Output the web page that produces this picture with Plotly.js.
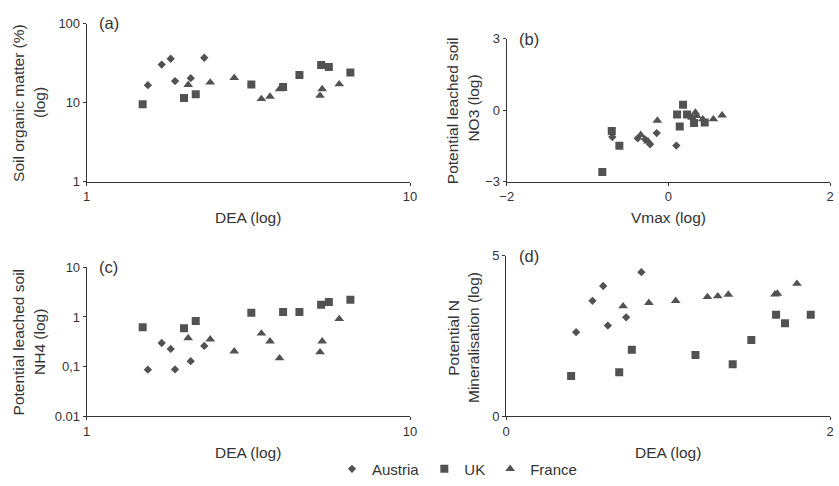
<!DOCTYPE html>
<html>
<head>
<meta charset="utf-8">
<script src="https://cdn.plot.ly/plotly-3.0.1.min.js"></script>
<style>
  html, body { margin: 0; padding: 0; background: #fff; }
  #chart { width: 839px; height: 486px; }
</style>
</head>
<body>
<div id="chart"></div>
<script>
// ---- Data ----
const countries = ['Austria', 'UK', 'France'];
const symbols = ['diamond', 'square', 'triangle-up'];

// Panels (a) and (c): DEA (log axis)
const deaAustria = [1.546, 1.706, 1.819, 1.876, 2.098, 2.31];
const deaUK = [1.49, 2.0, 2.174, 3.23, 4.05, 4.55, 5.31, 5.61, 6.54];
const deaFrance = [2.06, 2.41, 2.86, 3.47, 3.69, 3.95, 5.27, 5.35, 6.04];

// Panel (a): soil organic matter (%)
const somAustria = [16.7, 30.4, 36.1, 18.8, 20.5, 37.1];
const somUK = [9.6, 11.5, 12.8, 17.0, 15.8, 22.5, 30.0, 28.4, 24.2];
const somFrance = [16.9, 18.1, 20.7, 11.2, 12.0, 14.9, 12.3, 14.9, 17.2];

// Panel (c): potential leached soil NH4
const nh4Austria = [0.087, 0.299, 0.227, 0.088, 0.129, 0.261];
const nh4UK = [0.623, 0.594, 0.832, 1.22, 1.26, 1.26, 1.76, 1.99, 2.21];
const nh4France = [0.376, 0.354, 0.204, 0.466, 0.323, 0.148, 0.195, 0.323, 0.912];

// Panel (b): Vmax (log) vs potential leached soil NO3 (log)
const vmaxAustria = [-0.693, -0.379, -0.288, -0.226, -0.144, 0.099];
const no3Austria = [-1.12, -1.174, -1.216, -1.423, -0.954, -1.477];
const vmaxUK = [-0.817, -0.700, -0.606, 0.108, 0.141, 0.182, 0.231, 0.318, 0.450];
const no3UK = [-2.585, -0.871, -1.485, -0.178, -0.676, 0.237, -0.178, -0.531, -0.510];
const vmaxFrance = [-0.342, -0.251, -0.136, 0.293, 0.334, 0.351, 0.426, 0.557, 0.665];
const no3France = [-1.029, -1.299, -0.427, -0.303, -0.095, -0.232, -0.373, -0.373, -0.207];

// Panel (d): DEA (log) vs potential N mineralisation (log)
const deaLogAustria = [0.432, 0.533, 0.599, 0.628, 0.741, 0.835];
const nminAustria = [2.618, 3.593, 4.055, 2.823, 3.080, 4.487];
const deaLogUK = [0.401, 0.698, 0.776, 1.169, 1.399, 1.514, 1.667, 1.722, 1.881];
const nminUK = [1.253, 1.376, 2.074, 1.910, 1.622, 2.372, 3.162, 2.895, 3.162];
const deaLogFrance = [0.722, 0.881, 1.047, 1.243, 1.307, 1.372, 1.660, 1.675, 1.796];
const nminFrance = [3.429, 3.532, 3.593, 3.717, 3.737, 3.789, 3.799, 3.819, 4.127];

// Tick labels
const ticksA_x = [1, 10], ticksA_xt = ['1', '10'];
const ticksA_y = [1, 10, 100], ticksA_yt = ['1', '10', '100'];
const ticksB_x = [-2, 0, 2], ticksB_xt = ['\u22122', '0', '2'];
const ticksB_y = [-3, 0, 3], ticksB_yt = ['\u22123', '0', '3'];
const ticksC_y = [0.01, 0.1, 1, 10], ticksC_yt = ['0.01', '0,1', '1', '10'];
const ticksD_x = [0, 2], ticksD_xt = ['0', '2'];
const ticksD_y = [0, 5], ticksD_yt = ['0', '5'];

// ---- Build traces ----
const W = 839, H = 486;
const markerColor = '#525252';
const markerSizes = [6.4, 8, 8.5];
const panels = [
  { xa: 'x',  ya: 'y',  xs: [deaAustria, deaUK, deaFrance],          ys: [somAustria, somUK, somFrance] },
  { xa: 'x2', ya: 'y2', xs: [vmaxAustria, vmaxUK, vmaxFrance],       ys: [no3Austria, no3UK, no3France] },
  { xa: 'x3', ya: 'y3', xs: [deaAustria, deaUK, deaFrance],          ys: [nh4Austria, nh4UK, nh4France] },
  { xa: 'x4', ya: 'y4', xs: [deaLogAustria, deaLogUK, deaLogFrance], ys: [nminAustria, nminUK, nminFrance] }
];
const traces = [];
panels.forEach((p, pi) => {
  countries.forEach((c, ci) => {
    traces.push({
      type: 'scatter', mode: 'markers', name: c, legendgroup: c,
      showlegend: pi === 0,
      x: p.xs[ci], y: p.ys[ci], xaxis: p.xa, yaxis: p.ya,
      marker: { symbol: symbols[ci], size: markerSizes[ci], color: markerColor, line: { width: 0 } },
      hoverinfo: 'x+y+name'
    });
  });
});

// ---- Layout ----
const font = 'Liberation Sans, Arial, Helvetica, sans-serif';
const lineCol = '#333';
function axisBase(extra) {
  return Object.assign({
    showline: true, linecolor: lineCol, linewidth: 1,
    ticks: 'outside', ticklen: 3, tickwidth: 1, tickcolor: lineCol,
    showgrid: false, zeroline: false, fixedrange: true,
    tickfont: { family: font, size: 13, color: '#333' },
    tickmode: 'array'
  }, extra);
}
const px = v => v / W;
const py = v => 1 - v / H;

const layout = {
  width: W, height: H,
  margin: { l: 0, r: 0, t: 0, b: 0 },
  paper_bgcolor: '#fff', plot_bgcolor: '#fff',
  font: { family: font, color: '#333' },
  showlegend: true,
  legend: {
    orientation: 'h', x: px(457), xanchor: 'center', y: py(474), yanchor: 'middle',
    font: { family: font, size: 15, color: '#333' },
    bgcolor: 'rgba(0,0,0,0)', borderwidth: 0, itemclick: false, itemdoubleclick: false
  },
  xaxis:  axisBase({ domain: [px(86.7), px(410)], type: 'log', range: [0, 1], tickvals: ticksA_x, ticktext: ticksA_xt, anchor: 'y' }),
  yaxis:  axisBase({ domain: [py(183.7), py(24)], type: 'log', range: [0, 2], tickvals: ticksA_y, ticktext: ticksA_yt, anchor: 'x' }),
  xaxis2: axisBase({ domain: [px(506.7), px(830)], range: [-2, 2], tickvals: ticksB_x, ticktext: ticksB_xt, anchor: 'y2' }),
  yaxis2: axisBase({ domain: [py(183.7), py(39.3)], range: [-3, 3], tickvals: ticksB_y, ticktext: ticksB_yt, anchor: 'x2' }),
  xaxis3: axisBase({ domain: [px(86.7), px(410)], type: 'log', range: [0, 1], tickvals: ticksA_x, ticktext: ticksA_xt, anchor: 'y3' }),
  yaxis3: axisBase({ domain: [py(420.7), py(270)], type: 'log', range: [-2, 1], tickvals: ticksC_y, ticktext: ticksC_yt, anchor: 'x3' }),
  xaxis4: axisBase({ domain: [px(506.2), px(830)], range: [0, 2], tickvals: ticksD_x, ticktext: ticksD_xt, anchor: 'y4' }),
  yaxis4: axisBase({ domain: [py(420.7), py(258.3)], range: [0, 5], tickvals: ticksD_y, ticktext: ticksD_yt, anchor: 'x4' }),
  annotations: []
};

function ann(text, x, y, opts) {
  layout.annotations.push(Object.assign({
    text: text, xref: 'paper', yref: 'paper', x: px(x), y: py(y),
    xanchor: 'center', yanchor: 'middle', showarrow: false,
    font: { family: font, size: 15.5, color: '#333' }
  }, opts || {}));
}
// Panel labels
const labelFont = { family: font, size: 16.5, color: '#333' };
ann('(a)', 97, 23, { xanchor: 'left', font: labelFont });
ann('(b)', 516.5, 39.5, { xanchor: 'left', font: labelFont });
ann('(c)', 96.5, 270, { xanchor: 'left', font: labelFont });
ann('(d)', 517, 258.3, { xanchor: 'left', font: labelFont });
// X axis titles
ann('DEA (log)', 248.3, 220);
ann('Vmax (log)', 668.3, 220);
ann('DEA (log)', 248.3, 457.7);
ann('DEA (log)', 668.3, 457.7);
// Y axis titles (two lines each)
ann('Soil organic matter (%)', 18.5, 104.5, { textangle: -90 });
ann('(log)', 40, 104, { textangle: -90 });
ann('Potential leached soil', 453.3, 112, { textangle: -90 });
ann('NO3 (log)', 473.7, 109, { textangle: -90 });
ann('Potential leached soil', 18.5, 345.5, { textangle: -90 });
ann('NH4 (log)', 40, 345.5, { textangle: -90 });
ann('Potential N', 453.3, 341, { textangle: -90 });
ann('Mineralisation (log)', 473.5, 341, { textangle: -90 });

Plotly.newPlot('chart', traces, layout, { displayModeBar: false, responsive: false });
</script>
</body>
</html>
